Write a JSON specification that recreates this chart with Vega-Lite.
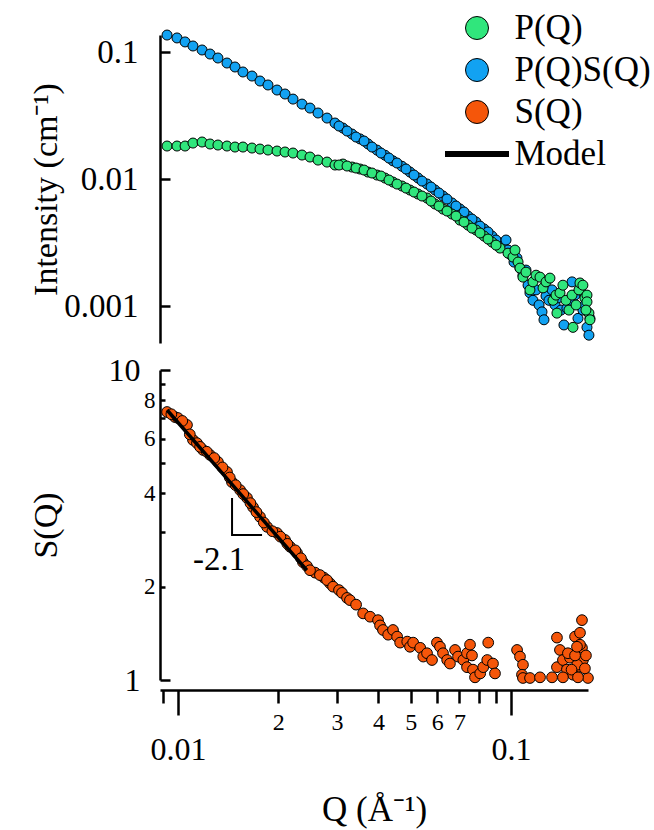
{
  "$schema": "https://vega.github.io/schema/vega-lite/v6.json",
  "padding": {"left": 29, "top": 10, "right": 5, "bottom": 5},
  "config": {
    "font": "Liberation Serif, Times New Roman, serif",
    "view": {"stroke": null},
    "text": {"font": "Liberation Serif, Times New Roman, serif"},
    "legend": {"labelFont": "Liberation Serif, Times New Roman, serif"},
    "axis": {
      "grid": false,
      "domainColor": "black",
      "domainWidth": 2.5,
      "tickColor": "black",
      "tickWidth": 2.5,
      "labelColor": "black",
      "titleColor": "black",
      "labelFont": "Liberation Serif, Times New Roman, serif",
      "titleFont": "Liberation Serif, Times New Roman, serif",
      "titleFontWeight": "normal",
      "labelOverlap": false,
      "labelFlush": false,
      "labelBound": false
    }
  },
  "datasets": {
    "top": [
      {"series": "P(Q)S(Q)", "q": 0.00927, "i": 0.136},
      {"series": "P(Q)S(Q)", "q": 0.00993, "i": 0.129},
      {"series": "P(Q)S(Q)", "q": 0.0105, "i": 0.120},
      {"series": "P(Q)S(Q)", "q": 0.01109, "i": 0.1115},
      {"series": "P(Q)S(Q)", "q": 0.01181, "i": 0.1037},
      {"series": "P(Q)S(Q)", "q": 0.01248, "i": 0.0964},
      {"series": "P(Q)S(Q)", "q": 0.01318, "i": 0.0897},
      {"series": "P(Q)S(Q)", "q": 0.01403, "i": 0.0819},
      {"series": "P(Q)S(Q)", "q": 0.01483, "i": 0.0762},
      {"series": "P(Q)S(Q)", "q": 0.01567, "i": 0.0696},
      {"series": "P(Q)S(Q)", "q": 0.01668, "i": 0.0647},
      {"series": "P(Q)S(Q)", "q": 0.01763, "i": 0.0591},
      {"series": "P(Q)S(Q)", "q": 0.01863, "i": 0.0550},
      {"series": "P(Q)S(Q)", "q": 0.01983, "i": 0.0502},
      {"series": "P(Q)S(Q)", "q": 0.02096, "i": 0.0467},
      {"series": "P(Q)S(Q)", "q": 0.02215, "i": 0.0426},
      {"series": "P(Q)S(Q)", "q": 0.02357, "i": 0.0389},
      {"series": "P(Q)S(Q)", "q": 0.02491, "i": 0.0362},
      {"series": "P(Q)S(Q)", "q": 0.02633, "i": 0.0331},
      {"series": "P(Q)S(Q)", "q": 0.02802, "i": 0.0302},
      {"series": "P(Q)S(Q)", "q": 0.02961, "i": 0.0276},
      {"series": "P(Q)S(Q)", "q": 0.03129, "i": 0.0252},
      {"series": "P(Q)S(Q)", "q": 0.03331, "i": 0.0226},
      {"series": "P(Q)S(Q)", "q": 0.0352, "i": 0.0207},
      {"series": "P(Q)S(Q)", "q": 0.0372, "i": 0.0189},
      {"series": "P(Q)S(Q)", "q": 0.03959, "i": 0.0169},
      {"series": "P(Q)S(Q)", "q": 0.04185, "i": 0.0154},
      {"series": "P(Q)S(Q)", "q": 0.04422, "i": 0.0139},
      {"series": "P(Q)S(Q)", "q": 0.04706, "i": 0.0126},
      {"series": "P(Q)S(Q)", "q": 0.04974, "i": 0.01135},
      {"series": "P(Q)S(Q)", "q": 0.05256, "i": 0.0102},
      {"series": "P(Q)S(Q)", "q": 0.05595, "i": 0.00914},
      {"series": "P(Q)S(Q)", "q": 0.05912, "i": 0.0082},
      {"series": "P(Q)S(Q)", "q": 0.06249, "i": 0.00735},
      {"series": "P(Q)S(Q)", "q": 0.0665, "i": 0.00648},
      {"series": "P(Q)S(Q)", "q": 0.07028, "i": 0.00581},
      {"series": "P(Q)S(Q)", "q": 0.07428, "i": 0.00511},
      {"series": "P(Q)S(Q)", "q": 0.0785, "i": 0.00459},
      {"series": "P(Q)S(Q)", "q": 0.08296, "i": 0.00405},
      {"series": "P(Q)S(Q)", "q": 0.08767, "i": 0.00356},
      {"series": "P(Q)S(Q)", "q": 0.09266, "i": 0.00313},
      {"series": "P(Q)S(Q)", "q": 0.03044, "i": 0.02614},
      {"series": "P(Q)S(Q)", "q": 0.03218, "i": 0.02388},
      {"series": "P(Q)S(Q)", "q": 0.03424, "i": 0.02142},
      {"series": "P(Q)S(Q)", "q": 0.0362, "i": 0.01992},
      {"series": "P(Q)S(Q)", "q": 0.03825, "i": 0.01786},
      {"series": "P(Q)S(Q)", "q": 0.0407, "i": 0.01602},
      {"series": "P(Q)S(Q)", "q": 0.04301, "i": 0.01463},
      {"series": "P(Q)S(Q)", "q": 0.04547, "i": 0.01337},
      {"series": "P(Q)S(Q)", "q": 0.04838, "i": 0.01199},
      {"series": "P(Q)S(Q)", "q": 0.05113, "i": 0.01075},
      {"series": "P(Q)S(Q)", "q": 0.05404, "i": 0.00964},
      {"series": "P(Q)S(Q)", "q": 0.05752, "i": 0.00865},
      {"series": "P(Q)S(Q)", "q": 0.06078, "i": 0.00776},
      {"series": "P(Q)S(Q)", "q": 0.06424, "i": 0.00696},
      {"series": "P(Q)S(Q)", "q": 0.06836, "i": 0.00613},
      {"series": "P(Q)S(Q)", "q": 0.07226, "i": 0.0055},
      {"series": "P(Q)S(Q)", "q": 0.07637, "i": 0.00484},
      {"series": "P(Q)S(Q)", "q": 0.08071, "i": 0.00426},
      {"series": "P(Q)S(Q)", "q": 0.0853, "i": 0.00383},
      {"series": "P(Q)S(Q)", "q": 0.09016, "i": 0.00331},
      {"series": "P(Q)S(Q)", "q": 0.0946, "i": 0.00297},
      {"series": "P(Q)S(Q)", "q": 0.0966, "i": 0.00331},
      {"series": "P(Q)S(Q)", "q": 0.098, "i": 0.00276},
      {"series": "P(Q)S(Q)", "q": 0.1, "i": 0.00252},
      {"series": "P(Q)S(Q)", "q": 0.1021, "i": 0.00222},
      {"series": "P(Q)S(Q)", "q": 0.1042, "i": 0.00239},
      {"series": "P(Q)S(Q)", "q": 0.1064, "i": 0.00199},
      {"series": "P(Q)S(Q)", "q": 0.1086, "i": 0.00175},
      {"series": "P(Q)S(Q)", "q": 0.1109, "i": 0.00192},
      {"series": "P(Q)S(Q)", "q": 0.1125, "i": 0.00146},
      {"series": "P(Q)S(Q)", "q": 0.114, "i": 0.00127},
      {"series": "P(Q)S(Q)", "q": 0.1164, "i": 0.00111},
      {"series": "P(Q)S(Q)", "q": 0.1189, "i": 0.00134},
      {"series": "P(Q)S(Q)", "q": 0.1214, "i": 0.00102},
      {"series": "P(Q)S(Q)", "q": 0.1239, "i": 0.0009},
      {"series": "P(Q)S(Q)", "q": 0.1256, "i": 0.00078},
      {"series": "P(Q)S(Q)", "q": 0.1274, "i": 0.0012},
      {"series": "P(Q)S(Q)", "q": 0.13, "i": 0.00111},
      {"series": "P(Q)S(Q)", "q": 0.1328, "i": 0.00134},
      {"series": "P(Q)S(Q)", "q": 0.1356, "i": 0.00102},
      {"series": "P(Q)S(Q)", "q": 0.1384, "i": 0.00116},
      {"series": "P(Q)S(Q)", "q": 0.1413, "i": 0.00093},
      {"series": "P(Q)S(Q)", "q": 0.1442, "i": 0.00071},
      {"series": "P(Q)S(Q)", "q": 0.1472, "i": 0.00096},
      {"series": "P(Q)S(Q)", "q": 0.1503, "i": 0.00111},
      {"series": "P(Q)S(Q)", "q": 0.1525, "i": 0.00155},
      {"series": "P(Q)S(Q)", "q": 0.1557, "i": 0.00122},
      {"series": "P(Q)S(Q)", "q": 0.1589, "i": 0.0008},
      {"series": "P(Q)S(Q)", "q": 0.1611, "i": 0.00134},
      {"series": "P(Q)S(Q)", "q": 0.1644, "i": 0.00093},
      {"series": "P(Q)S(Q)", "q": 0.1667, "i": 0.00102},
      {"series": "P(Q)S(Q)", "q": 0.1691, "i": 0.00068},
      {"series": "P(Q)S(Q)", "q": 0.1714, "i": 0.00059},
      {"series": "P(Q)S(Q)", "q": 0.1726, "i": 0.0008},
      {"series": "P(Q)", "q": 0.00927, "i": 0.01819},
      {"series": "P(Q)", "q": 0.00993, "i": 0.01819},
      {"series": "P(Q)", "q": 0.0105, "i": 0.01819},
      {"series": "P(Q)", "q": 0.01109, "i": 0.0192},
      {"series": "P(Q)", "q": 0.01181, "i": 0.01956},
      {"series": "P(Q)", "q": 0.01248, "i": 0.01887},
      {"series": "P(Q)", "q": 0.01318, "i": 0.01852},
      {"series": "P(Q)", "q": 0.01403, "i": 0.01819},
      {"series": "P(Q)", "q": 0.01483, "i": 0.01786},
      {"series": "P(Q)", "q": 0.01567, "i": 0.01786},
      {"series": "P(Q)", "q": 0.01668, "i": 0.01754},
      {"series": "P(Q)", "q": 0.01763, "i": 0.01722},
      {"series": "P(Q)", "q": 0.01863, "i": 0.01692},
      {"series": "P(Q)", "q": 0.01983, "i": 0.01661},
      {"series": "P(Q)", "q": 0.02096, "i": 0.01632},
      {"series": "P(Q)", "q": 0.02215, "i": 0.01602},
      {"series": "P(Q)", "q": 0.02357, "i": 0.01545},
      {"series": "P(Q)", "q": 0.02491, "i": 0.0149},
      {"series": "P(Q)", "q": 0.02633, "i": 0.0141},
      {"series": "P(Q)", "q": 0.02802, "i": 0.0136},
      {"series": "P(Q)", "q": 0.02961, "i": 0.01289},
      {"series": "P(Q)", "q": 0.03129, "i": 0.01312},
      {"series": "P(Q)", "q": 0.03331, "i": 0.01243},
      {"series": "P(Q)", "q": 0.0352, "i": 0.01199},
      {"series": "P(Q)", "q": 0.0372, "i": 0.01135},
      {"series": "P(Q)", "q": 0.03959, "i": 0.01075},
      {"series": "P(Q)", "q": 0.04185, "i": 0.01018},
      {"series": "P(Q)", "q": 0.04422, "i": 0.00947},
      {"series": "P(Q)", "q": 0.04706, "i": 0.00881},
      {"series": "P(Q)", "q": 0.04974, "i": 0.00819},
      {"series": "P(Q)", "q": 0.05256, "i": 0.00762},
      {"series": "P(Q)", "q": 0.05595, "i": 0.00709},
      {"series": "P(Q)", "q": 0.05912, "i": 0.00636},
      {"series": "P(Q)", "q": 0.06249, "i": 0.0058},
      {"series": "P(Q)", "q": 0.0665, "i": 0.0053},
      {"series": "P(Q)", "q": 0.07028, "i": 0.00475},
      {"series": "P(Q)", "q": 0.07428, "i": 0.00434},
      {"series": "P(Q)", "q": 0.0785, "i": 0.00397},
      {"series": "P(Q)", "q": 0.08296, "i": 0.00356},
      {"series": "P(Q)", "q": 0.08767, "i": 0.00319},
      {"series": "P(Q)", "q": 0.09266, "i": 0.00286},
      {"series": "P(Q)", "q": 0.09795, "i": 0.00261},
      {"series": "P(Q)", "q": 0.03044, "i": 0.01289},
      {"series": "P(Q)", "q": 0.03218, "i": 0.01266},
      {"series": "P(Q)", "q": 0.03424, "i": 0.01221},
      {"series": "P(Q)", "q": 0.0362, "i": 0.01177},
      {"series": "P(Q)", "q": 0.03825, "i": 0.01115},
      {"series": "P(Q)", "q": 0.0407, "i": 0.01056},
      {"series": "P(Q)", "q": 0.04301, "i": 0.00982},
      {"series": "P(Q)", "q": 0.04547, "i": 0.00913},
      {"series": "P(Q)", "q": 0.04838, "i": 0.00849},
      {"series": "P(Q)", "q": 0.05113, "i": 0.0079},
      {"series": "P(Q)", "q": 0.05404, "i": 0.00735},
      {"series": "P(Q)", "q": 0.05752, "i": 0.00671},
      {"series": "P(Q)", "q": 0.06078, "i": 0.00613},
      {"series": "P(Q)", "q": 0.06424, "i": 0.0056},
      {"series": "P(Q)", "q": 0.06836, "i": 0.00511},
      {"series": "P(Q)", "q": 0.07226, "i": 0.00459},
      {"series": "P(Q)", "q": 0.07637, "i": 0.00411},
      {"series": "P(Q)", "q": 0.08071, "i": 0.00376},
      {"series": "P(Q)", "q": 0.0853, "i": 0.00337},
      {"series": "P(Q)", "q": 0.09016, "i": 0.00302},
      {"series": "P(Q)", "q": 0.1014, "i": 0.00243},
      {"series": "P(Q)", "q": 0.1028, "i": 0.00276},
      {"series": "P(Q)", "q": 0.105, "i": 0.00222},
      {"series": "P(Q)", "q": 0.1064, "i": 0.00199},
      {"series": "P(Q)", "q": 0.1086, "i": 0.00169},
      {"series": "P(Q)", "q": 0.1109, "i": 0.00185},
      {"series": "P(Q)", "q": 0.114, "i": 0.00134},
      {"series": "P(Q)", "q": 0.1164, "i": 0.00155},
      {"series": "P(Q)", "q": 0.1189, "i": 0.00175},
      {"series": "P(Q)", "q": 0.1222, "i": 0.00169},
      {"series": "P(Q)", "q": 0.1248, "i": 0.00139},
      {"series": "P(Q)", "q": 0.1274, "i": 0.00155},
      {"series": "P(Q)", "q": 0.1309, "i": 0.00166},
      {"series": "P(Q)", "q": 0.1337, "i": 0.00111},
      {"series": "P(Q)", "q": 0.1365, "i": 0.00122},
      {"series": "P(Q)", "q": 0.1374, "i": 0.00088},
      {"series": "P(Q)", "q": 0.1403, "i": 0.00127},
      {"series": "P(Q)", "q": 0.1432, "i": 0.00146},
      {"series": "P(Q)", "q": 0.1462, "i": 0.00111},
      {"series": "P(Q)", "q": 0.1493, "i": 0.00093},
      {"series": "P(Q)", "q": 0.1525, "i": 0.00122},
      {"series": "P(Q)", "q": 0.1535, "i": 0.00068},
      {"series": "P(Q)", "q": 0.1568, "i": 0.00102},
      {"series": "P(Q)", "q": 0.16, "i": 0.00134},
      {"series": "P(Q)", "q": 0.1611, "i": 0.00152},
      {"series": "P(Q)", "q": 0.1644, "i": 0.00146},
      {"series": "P(Q)", "q": 0.1667, "i": 0.00116},
      {"series": "P(Q)", "q": 0.1691, "i": 0.00122},
      {"series": "P(Q)", "q": 0.1691, "i": 0.00108},
      {"series": "P(Q)", "q": 0.1714, "i": 0.00088},
      {"series": "P(Q)", "q": 0.1726, "i": 0.00078},
      {"series": "P(Q)", "q": 0.1679, "i": 0.00093}
    ],
    "sq": [
      {"q": 0.00927, "s": 7.32}, {"q": 0.00979, "s": 7.05}, {"q": 0.01, "s": 7.0},
      {"q": 0.01064, "s": 6.65}, {"q": 0.01109, "s": 5.95}, {"q": 0.0114, "s": 5.81},
      {"q": 0.01189, "s": 5.52}, {"q": 0.01248, "s": 5.32}, {"q": 0.01318, "s": 5.05},
      {"q": 0.01403, "s": 4.69}, {"q": 0.01452, "s": 4.35}, {"q": 0.01536, "s": 4.1},
      {"q": 0.01611, "s": 3.87}, {"q": 0.0168, "s": 3.61}, {"q": 0.01763, "s": 3.36},
      {"q": 0.01851, "s": 3.12}, {"q": 0.01983, "s": 2.98}, {"q": 0.02096, "s": 2.83},
      {"q": 0.02171, "s": 2.69}, {"q": 0.02277, "s": 2.57}, {"q": 0.02372, "s": 2.4},
      {"q": 0.00955, "s": 7.2}, {"q": 0.0103, "s": 6.85}, {"q": 0.01085, "s": 6.2},
      {"q": 0.01165, "s": 5.65}, {"q": 0.0122, "s": 5.45}, {"q": 0.01285, "s": 5.2},
      {"q": 0.0136, "s": 4.85}, {"q": 0.0143, "s": 4.5}, {"q": 0.0149, "s": 4.25},
      {"q": 0.0157, "s": 3.98}, {"q": 0.0165, "s": 3.72}, {"q": 0.0172, "s": 3.48},
      {"q": 0.0181, "s": 3.22}, {"q": 0.0192, "s": 3.02}, {"q": 0.0203, "s": 2.9},
      {"q": 0.0213, "s": 2.75}, {"q": 0.0225, "s": 2.62}, {"q": 0.0234, "s": 2.47},
      {"q": 0.0244, "s": 2.33}, {"q": 0.0258, "s": 2.22}, {"q": 0.0274, "s": 2.14},
      {"q": 0.0286, "s": 2.05},
      {"q": 0.02491, "s": 2.26}, {"q": 0.02668, "s": 2.18}, {"q": 0.02802, "s": 2.1},
      {"q": 0.02922, "s": 2.0}, {"q": 0.03044, "s": 1.95}, {"q": 0.03108, "s": 1.91},
      {"q": 0.03218, "s": 1.84}, {"q": 0.03283, "s": 1.81}, {"q": 0.03426, "s": 1.75},
      {"q": 0.03596, "s": 1.64}, {"q": 0.03775, "s": 1.6}, {"q": 0.03987, "s": 1.56},
      {"q": 0.04043, "s": 1.5}, {"q": 0.04126, "s": 1.45}, {"q": 0.04277, "s": 1.4},
      {"q": 0.04422, "s": 1.45}, {"q": 0.0455, "s": 1.38}, {"q": 0.04646, "s": 1.32},
      {"q": 0.04879, "s": 1.33}, {"q": 0.04974, "s": 1.28}, {"q": 0.05084, "s": 1.32},
      {"q": 0.05338, "s": 1.27}, {"q": 0.05451, "s": 1.19}, {"q": 0.05595, "s": 1.22},
      {"q": 0.05791, "s": 1.16}, {"q": 0.05992, "s": 1.32}, {"q": 0.0612, "s": 1.28},
      {"q": 0.06249, "s": 1.22}, {"q": 0.06431, "s": 1.16}, {"q": 0.06556, "s": 1.13},
      {"q": 0.06792, "s": 1.25}, {"q": 0.06934, "s": 1.19}, {"q": 0.0719, "s": 1.16},
      {"q": 0.07377, "s": 1.22}, {"q": 0.07532, "s": 1.3}, {"q": 0.07636, "s": 1.2},
      {"q": 0.07377, "s": 1.1}, {"q": 0.07688, "s": 1.08}, {"q": 0.07796, "s": 1.02},
      {"q": 0.08082, "s": 1.05}, {"q": 0.08251, "s": 1.1}, {"q": 0.08543, "s": 1.32},
      {"q": 0.08484, "s": 1.16}, {"q": 0.08829, "s": 1.13}, {"q": 0.08952, "s": 1.05},
      {"q": 0.10427, "s": 1.25}, {"q": 0.10641, "s": 1.19}, {"q": 0.10862, "s": 1.12},
      {"q": 0.10788, "s": 1.04}, {"q": 0.10862, "s": 1.015}, {"q": 0.11404, "s": 1.015},
      {"q": 0.12222, "s": 1.02}, {"q": 0.13281, "s": 1.02}, {"q": 0.1374, "s": 1.37},
      {"q": 0.14028, "s": 1.25}, {"q": 0.1374, "s": 1.1}, {"q": 0.14321, "s": 1.16},
      {"q": 0.14722, "s": 1.08}, {"q": 0.15033, "s": 1.18}, {"q": 0.15571, "s": 1.38},
      {"q": 0.16112, "s": 1.42}, {"q": 0.16335, "s": 1.56}, {"q": 0.16335, "s": 1.27},
      {"q": 0.16448, "s": 1.16}, {"q": 0.15789, "s": 1.1}, {"q": 0.15354, "s": 1.04},
      {"q": 0.17023, "s": 1.015}, {"q": 0.14321, "s": 1.02}, {"q": 0.14823, "s": 1.22},
      {"q": 0.158, "s": 1.12}, {"q": 0.1557, "s": 1.2}, {"q": 0.152, "s": 1.08},
      {"q": 0.1667, "s": 1.09}, {"q": 0.1679, "s": 1.2}, {"q": 0.1611, "s": 1.3},
      {"q": 0.1589, "s": 1.02}, {"q": 0.1578, "s": 1.28}
    ],
    "model": [
      {"q": 0.00927, "s": 7.43}, {"q": 0.01504, "s": 4.1}, {"q": 0.0191, "s": 3.05}, {"q": 0.02437, "s": 2.26}
    ],
    "bracket": [
      {"k": 1, "q": 0.01453, "s": 3.865}, {"k": 2, "q": 0.01453, "s": 2.935}, {"k": 3, "q": 0.01788, "s": 2.935}
    ]
  },
  "bounds": "flush",
  "spacing": 27,
  "resolve": {"scale": {"color": "independent"}, "legend": {"color": "independent"}},
  "vconcat": [
    {
      "width": 428,
      "height": 308,
      "data": {"name": "top"},
      "mark": {"type": "point", "shape": "circle", "filled": true, "size": 100, "stroke": "black", "strokeWidth": 1, "opacity": 1},
      "encoding": {
        "x": {"field": "q", "type": "quantitative", "scale": {"type": "log", "domain": [0.008829, 0.1703], "nice": false}, "axis": null},
        "y": {
          "field": "i", "type": "quantitative",
          "scale": {"type": "log", "domain": [0.000512, 0.1361], "nice": false},
          "axis": {
            "title": "Intensity (cm⁻¹)", "values": [0.001, 0.01, 0.1],
            "labelExpr": "format(datum.value, '~g')", "labelFontSize": 33,
            "tickSize": -10, "labelPadding": 32,
            "titleFontSize": 34, "titleAngle": 270, "titleBaseline": "alphabetic", "titleAlign": "center",
            "titleX": -104, "titleY": 154
          }
        },
        "color": {
          "field": "series", "type": "nominal",
          "scale": {"domain": ["P(Q)", "P(Q)S(Q)", "S(Q)", "Model"], "range": ["#30E67C", "#12A2F2", "#F5560A", "#000000"]},
          "legend": {
            "title": null, "orient": "none", "legendX": 299.5, "legendY": -24.5,
            "symbolType": "circle", "symbolSize": 529, "symbolStrokeColor": "black", "symbolStrokeWidth": 1, "symbolOpacity": 1,
            "labelFontSize": 35, "labelColor": "black", "labelOffset": 20, "labelLimit": 300,
            "rowPadding": 6, "padding": 0,
            "encode": {
              "symbols": {
                "update": {
                  "shape": {"signal": "datum.value === 'Model' ? 'stroke' : 'circle'"},
                  "size": {"signal": "datum.value === 'Model' ? 4096 : 529"},
                  "strokeWidth": {"signal": "datum.value === 'Model' ? 6 : 1"},
                  "stroke": {"value": "black"}
                }
              }
            }
          }
        }
      }
    },
    {
      "width": 428,
      "height": 310,
      "layer": [
        {
          "data": {"name": "sq"},
          "mark": {"type": "point", "shape": "circle", "filled": true, "size": 115, "fill": "#F5560A", "stroke": "black", "strokeWidth": 1, "opacity": 1},
          "encoding": {
            "x": {
              "field": "q", "type": "quantitative",
              "scale": {"type": "log", "domain": [0.008829, 0.1703], "nice": false},
              "axis": {
                "title": "Q (Å⁻¹)", "offset": 10,
                "values": [0.009, 0.01, 0.02, 0.03, 0.04, 0.05, 0.06, 0.07, 0.08, 0.09, 0.1],
                "labelExpr": "datum.value == 0.01 ? '0.01' : datum.value == 0.1 ? '0.1' : (datum.value > 0.015 && datum.value < 0.075) ? format(datum.value * 100, '.0f') : ''",
                "labelFontSize": {"condition": {"test": "datum.value == 0.01 || datum.value == 0.1", "value": 32}, "value": 24},
                "tickSize": {"condition": {"test": "datum.value == 0.01 || datum.value == 0.1", "value": 25}, "value": 13},
                "labelPadding": {"condition": {"test": "datum.value == 0.01 || datum.value == 0.1", "value": 19}, "value": 7},
                "titleFontSize": 35, "titleBaseline": "alphabetic", "titleAlign": "center",
                "titleX": 214, "titleY": 130
              }
            },
            "y": {
              "field": "s", "type": "quantitative",
              "scale": {"type": "log", "domain": [1, 10], "nice": false},
              "axis": {
                "title": "S(Q)",
                "values": [1, 2, 3, 4, 5, 6, 7, 8, 9, 10],
                "labelExpr": "indexof([1, 2, 4, 6, 8, 10], datum.value) >= 0 ? format(datum.value, 'd') : ''",
                "labelFontSize": {"condition": {"test": "datum.value == 1 || datum.value == 10", "value": 32}, "value": 23},
                "tickSize": {"condition": {"test": "datum.value == 1 || datum.value == 10", "value": -10}, "value": -5},
                "labelPadding": {"condition": {"test": "datum.value == 1 || datum.value == 10", "value": 30}, "value": 10},
                "titleFontSize": 34, "titleAngle": 270, "titleBaseline": "alphabetic", "titleAlign": "center",
                "titleX": -104, "titleY": 155
              }
            }
          }
        },
        {
          "data": {"name": "model"},
          "mark": {"type": "line", "color": "black", "strokeWidth": 3.5},
          "encoding": {
            "x": {"field": "q", "type": "quantitative"},
            "y": {"field": "s", "type": "quantitative"}
          }
        },
        {
          "data": {"name": "bracket"},
          "mark": {"type": "line", "color": "black", "strokeWidth": 2},
          "encoding": {
            "x": {"field": "q", "type": "quantitative"},
            "y": {"field": "s", "type": "quantitative"},
            "order": {"field": "k", "type": "quantitative"}
          }
        },
        {
          "data": {"values": [{"q": 0.01328, "s": 2.264, "label": "-2.1"}]},
          "mark": {"type": "text", "fontSize": 33, "align": "center", "baseline": "alphabetic", "color": "black"},
          "encoding": {
            "x": {"field": "q", "type": "quantitative"},
            "y": {"field": "s", "type": "quantitative"},
            "text": {"field": "label"}
          }
        }
      ]
    }
  ]
}
